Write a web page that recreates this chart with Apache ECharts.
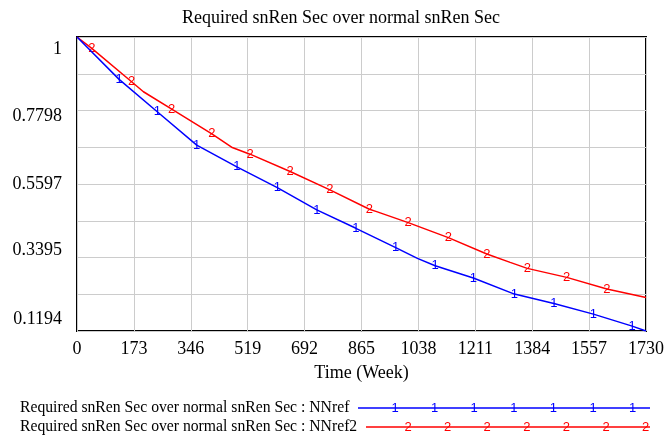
<!DOCTYPE html>
<html>
<head>
<meta charset="utf-8">
<script src="https://cdn.jsdelivr.net/npm/echarts@6/dist/echarts.min.js"></script>
<style>html,body{margin:0;padding:0;background:#fff;}#c{width:664px;height:441px;}</style>
</head>
<body>
<div id="c"></div>
<script>
const chartTitle = 'Required snRen Sec over normal snRen Sec';
const xAxisName = 'Time (Week)';
const seriesNames = [
  'Required snRen Sec over normal snRen Sec : NNref',
  'Required snRen Sec over normal snRen Sec : NNref2'
];
const markerTexts = ['1', '2'];
const seriesColors = ['#0000ff', '#ff0000'];

// x axis ticks
const xMin = 0, xMax = 1730, xInterval = 173;
// y axis
const yMin = 0.1194, yMax = 1;
const yGridValues = [0.1194, 0.229475, 0.33955, 0.449625, 0.5597, 0.669775, 0.77985, 0.889925, 1];
const yLabelValues = [0.1194, 0.3395, 0.5597, 0.7798, 1];
const yLabelTexts = ['0.1194', '0.3395', '0.5597', '0.7798', '1'];

// NNref (blue, marker "1")
const nnrefTime  = [0, 128, 244, 364, 486, 609, 729, 848, 969, 1035, 1089, 1205, 1330, 1450, 1570, 1688, 1730];
const nnrefValue = [1.0, 0.873, 0.776, 0.676, 0.611, 0.549, 0.482, 0.427, 0.369, 0.337, 0.315, 0.278, 0.230, 0.202, 0.170, 0.134, 0.1194];
const nnrefMarkerIdx = [1, 2, 3, 4, 5, 6, 7, 8, 10, 11, 12, 13, 14, 15];

// NNref2 (red, marker "2")
const nnref2Time  = [0, 45, 166, 202, 288, 410, 470, 526, 648, 769, 889, 911, 1007, 1129, 1246, 1317, 1369, 1489, 1611, 1730];
const nnref2Value = [1.0, 0.966, 0.866, 0.836, 0.784, 0.710, 0.670, 0.649, 0.597, 0.542, 0.484, 0.477, 0.444, 0.399, 0.350, 0.325, 0.307, 0.280, 0.245, 0.220];
const nnref2MarkerIdx = [1, 2, 4, 5, 7, 8, 9, 10, 12, 13, 14, 16, 17, 18];

function buildData(times, values, markerIdx, color, txt) {
  return times.map((t, i) => {
    const item = { value: [t, values[i]] };
    if (markerIdx.indexOf(i) >= 0) {
      item.symbol = 'circle';
      item.symbolSize = 1;
      item.itemStyle = { color: 'rgba(0,0,0,0)' };
      item.label = {
        show: true, position: 'inside', formatter: txt, color: color,
        fontFamily: 'Liberation Sans', fontSize: 13
      };
    }
    return item;
  });
}

const labelStyleKey = { '1': 'a', '0.7798': 'b', '0.5597': 'c', '0.3395': 'd', '0.1194': 'e' };
const FS = 18;

const chart = echarts.init(document.getElementById('c'), null, { renderer: 'canvas' });

const legendGraphics = [];
const legendRowsY = [408, 427];
const legendLineX = [[358, 650], [366, 650]];
const legendMarkStart = [395, 408];
seriesNames.forEach((nm, k) => {
  legendGraphics.push({
    type: 'text', silent: true,
    style: { x: 20, y: legendRowsY[k], text: nm, fill: '#000',
      font: '15.7px "Liberation Serif"', verticalAlign: 'middle', align: 'left' }
  });
  legendGraphics.push({
    type: 'line', silent: true,
    shape: { x1: legendLineX[k][0], y1: legendRowsY[k], x2: legendLineX[k][1], y2: legendRowsY[k] },
    style: { stroke: seriesColors[k], lineWidth: 1.5 }
  });
  for (let i = 0; i < 7; i++) {
    legendGraphics.push({
      type: 'text', silent: true,
      style: { x: legendMarkStart[k] + i * 39.6, y: legendRowsY[k], text: markerTexts[k],
        fill: seriesColors[k], font: '13px "Liberation Sans"', verticalAlign: 'middle', align: 'center' }
    });
  }
});

const richBase = { fontFamily: 'Liberation Serif', fontSize: FS, color: '#000' };

chart.setOption({
  animation: false,
  backgroundColor: '#ffffff',
  title: {
    text: chartTitle, left: 336, top: 4, textAlign: 'center',
    textStyle: { fontFamily: 'Liberation Serif', fontSize: FS, fontWeight: 'normal', color: '#000' }
  },
  grid: { left: 77, right: 18, top: 37, bottom: 110, show: true, borderColor: '#000', borderWidth: 2,
    backgroundColor: 'transparent', outerBoundsMode: 'none', containLabel: false },
  xAxis: {
    type: 'value', min: xMin, max: xMax, interval: xInterval,
    name: xAxisName, nameLocation: 'middle', nameGap: 33,
    nameTextStyle: { fontFamily: 'Liberation Serif', fontSize: FS, color: '#000' },
    axisLine: { show: false }, axisTick: { show: false },
    axisLabel: { fontFamily: 'Liberation Serif', fontSize: FS, color: '#000', margin: 9,
      formatter: function (v) { return String(v); } },
    splitLine: { show: true, lineStyle: { color: '#cccccc', width: 1 } }
  },
  yAxis: {
    type: 'value', min: yMin, max: yMax,
    axisLine: { show: false },
    axisTick: { show: false, customValues: yGridValues },
    axisLabel: {
      customValues: yLabelValues, margin: 15,
      fontFamily: 'Liberation Serif', fontSize: FS, color: '#000',
      formatter: function (v) {
        let best = 0, bd = 1e9;
        yLabelValues.forEach((lv, i) => { const d = Math.abs(lv - v); if (d < bd) { bd = d; best = i; } });
        const t = yLabelTexts[best];
        return '{' + labelStyleKey[t] + '|' + t + '}';
      },
      rich: {
        a: Object.assign({ padding: [24, 0, 0, 0] }, richBase),
        b: Object.assign({ padding: [12, 0, 0, 0] }, richBase),
        c: Object.assign({}, richBase),
        d: Object.assign({ padding: [0, 0, 14, 0] }, richBase),
        e: Object.assign({ padding: [0, 0, 24, 0] }, richBase)
      }
    },
    splitLine: { show: true, lineStyle: { color: '#cccccc', width: 1 } }
  },
  graphic: legendGraphics,
  series: [
    {
      name: seriesNames[0], type: 'line', symbol: 'none', showSymbol: true, showAllSymbol: true,
      lineStyle: { color: seriesColors[0], width: 1.5 }, itemStyle: { color: seriesColors[0] },
      z: 3,
      data: buildData(nnrefTime, nnrefValue, nnrefMarkerIdx, seriesColors[0], markerTexts[0])
    },
    {
      name: seriesNames[1], type: 'line', symbol: 'none', showSymbol: true, showAllSymbol: true,
      lineStyle: { color: seriesColors[1], width: 1.5 }, itemStyle: { color: seriesColors[1] },
      z: 2,
      data: buildData(nnref2Time, nnref2Value, nnref2MarkerIdx, seriesColors[1], markerTexts[1])
    }
  ]
});
</script>
</body>
</html>
